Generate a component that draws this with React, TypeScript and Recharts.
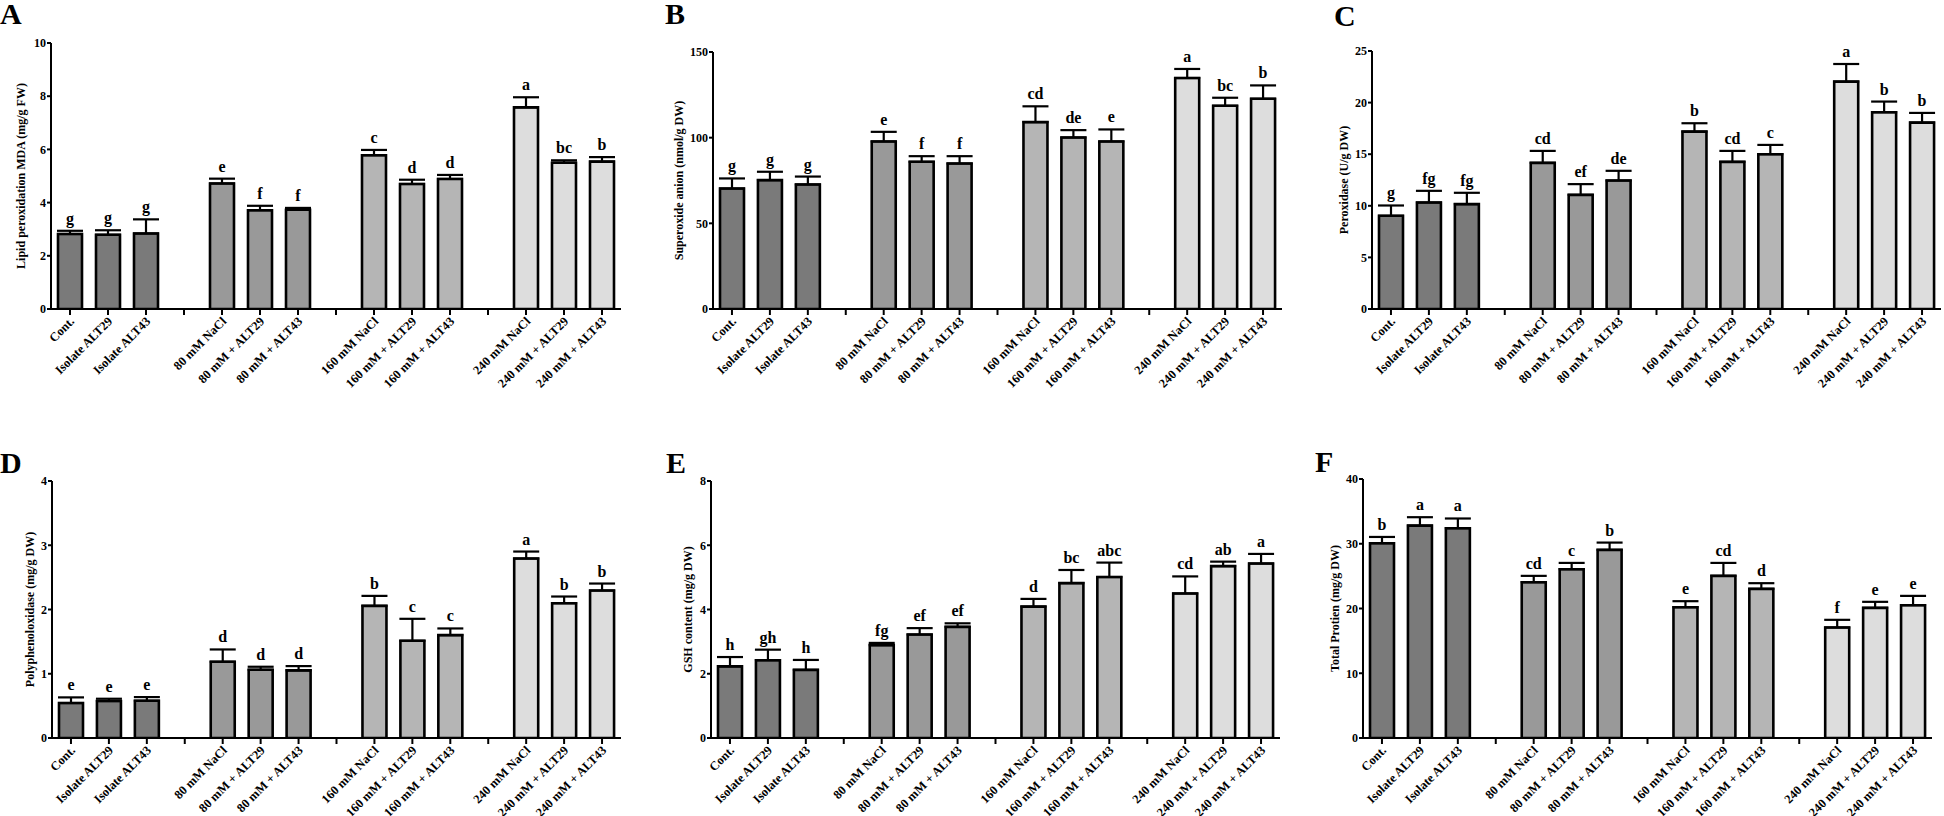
import React from 'react';
import { BarChart, Bar, XAxis, YAxis, ErrorBar, LabelList, Cell } from 'recharts';

const FONT = '"Liberation Serif", "Times New Roman", Times, serif';

const CATEGORIES = [
  'Cont.', 'Isolate ALT29', 'Isolate ALT43',
  '80 mM NaCl', '80 mM + ALT29', '80 mM + ALT43',
  '160 mM NaCl', '160 mM + ALT29', '160 mM + ALT43',
  '240 mM NaCl', '240 mM + ALT29', '240 mM + ALT43',
];

const GROUP_COLORS = ['#7a7a7a', '#999999', '#b5b5b5', '#dddddd'];

// A: Lipid peroxidation
const mdaMean = [2.82, 2.79, 2.84, 4.72, 3.71, 3.73, 5.78, 4.70, 4.89, 7.58, 5.50, 5.54];
const mdaErr = [0.12, 0.17, 0.53, 0.18, 0.17, 0.07, 0.20, 0.16, 0.15, 0.38, 0.09, 0.17];
const mdaSig = ['g', 'g', 'g', 'e', 'f', 'f', 'c', 'd', 'd', 'a', 'bc', 'b'];
const mdaTicks = [0, 2, 4, 6, 8, 10];

// B: Superoxide anion
const soMean = [70.3, 75.2, 72.7, 97.8, 85.9, 84.9, 109.1, 100.1, 97.8, 134.8, 118.6, 122.7];
const soErr = [5.9, 4.9, 4.6, 5.6, 3.3, 4.3, 9.2, 4.3, 7.0, 5.3, 4.7, 7.8];
const soSig = ['g', 'g', 'g', 'e', 'f', 'f', 'cd', 'de', 'e', 'a', 'bc', 'b'];
const soTicks = [0, 50, 100, 150];

// C: Peroxidase
const podMean = [9.03, 10.32, 10.16, 14.16, 11.06, 12.45, 17.19, 14.26, 15.0, 22.03, 19.06, 18.06];
const podErr = [1.0, 1.13, 1.1, 1.16, 1.04, 0.94, 0.81, 1.06, 0.9, 1.71, 1.04, 0.94];
const podSig = ['g', 'fg', 'fg', 'cd', 'ef', 'de', 'b', 'cd', 'c', 'a', 'b', 'b'];
const podTicks = [0, 5, 10, 15, 20, 25];

// D: Polyphenoloxidase
const ppoMean = [0.544, 0.575, 0.58, 1.187, 1.062, 1.052, 2.057, 1.513, 1.601, 2.793, 2.098, 2.295];
const ppoErr = [0.088, 0.036, 0.057, 0.191, 0.047, 0.067, 0.155, 0.342, 0.104, 0.109, 0.104, 0.109];
const ppoSig = ['e', 'e', 'e', 'd', 'd', 'd', 'b', 'c', 'c', 'a', 'b', 'b'];
const ppoTicks = [0, 1, 2, 3, 4];

// E: GSH content
const gshMean = [2.23, 2.42, 2.12, 2.89, 3.22, 3.46, 4.09, 4.82, 5.01, 4.5, 5.35, 5.43];
const gshErr = [0.29, 0.33, 0.31, 0.07, 0.2, 0.11, 0.24, 0.41, 0.45, 0.53, 0.14, 0.3];
const gshSig = ['h', 'gh', 'h', 'fg', 'ef', 'ef', 'd', 'bc', 'abc', 'cd', 'ab', 'a'];
const gshTicks = [0, 2, 4, 6, 8];

// F: Total protein
const protMean = [30.08, 32.8, 32.4, 24.06, 26.07, 29.05, 20.2, 25.04, 23.03, 17.07, 20.1, 20.51];
const protErr = [0.97, 1.3, 1.5, 0.98, 0.97, 1.13, 0.93, 2.0, 0.88, 1.18, 0.93, 1.44];
const protSig = ['b', 'a', 'a', 'cd', 'c', 'b', 'e', 'cd', 'd', 'f', 'e', 'e'];
const protTicks = [0, 10, 20, 30, 40];

type Row = { key: string; label: string; value: number | null; err?: number[]; sig: string; sd: number; group: number };

function buildRows(means: number[], errs: number[], sigs: string[]): Row[] {
  const rows: Row[] = [];
  CATEGORIES.forEach((c, i) => {
    if (i > 0 && i % 3 === 0) {
      rows.push({ key: `gap${i}`, label: '', value: null, sig: '', sd: 0, group: -1 });
    }
    rows.push({ key: c, label: c, value: means[i], err: [0, errs[i]], sig: sigs[i], sd: errs[i], group: Math.floor(i / 3) });
  });
  return rows;
}

const CatTick = (props: any) => {
  const { x, y, payload } = props;
  const v = String(payload?.value ?? '');
  if (v.startsWith('gap')) return null;
  const ax = x + 2;
  const ay = y + 4;
  return (
    <text
      x={ax}
      y={ay}
      transform={`rotate(-45, ${ax}, ${ay})`}
      textAnchor="end"
      dy="0.35em"
      fontSize={12.5}
      fontWeight="bold"
      fontFamily={FONT}
      fill="#000"
    >
      {v}
    </text>
  );
};

type PanelCfg = {
  letter: string; letterX: number; letterBase: number;
  plotX: number; plotY: number; plotW: number; plotH: number;
  max: number; ticks: number[]; ylabel: string; labelOffset: number;
  means: number[]; errs: number[]; sigs: string[];
};

function Panel({ cfg }: { cfg: PanelCfg }) {
  const { plotX, plotY, plotW, plotH, max, ticks, ylabel, labelOffset, means, errs, sigs } = cfg;
  const rows = buildRows(means, errs, sigs);
  const YW = 60, MT = 40, XH = 110, MR = 4;
  const width = YW + plotW + MR;
  const height = MT + plotH + XH;
  const ppu = plotH / max;

  const sigContent = (p: any) => {
    const { x, y, width: w, value } = p;
    if (!value) return null;
    const [s, sdStr] = String(value).split('|');
    const sd = Number(sdStr);
    const cx = Number(x) + Number(w) / 2;
    const ty = Number(y) - sd * ppu - 7;
    return (
      <text x={cx} y={ty} textAnchor="middle" fontSize={16} fontWeight="bold" fontFamily={FONT} fill="#000">
        {s}
      </text>
    );
  };

  const yLabel = () => {
    const lx = YW - labelOffset;
    const ly = MT + plotH / 2;
    return (
      <text
        x={lx}
        y={ly}
        transform={`rotate(-90, ${lx}, ${ly})`}
        textAnchor="middle"
        dominantBaseline="central"
        fontSize={12}
        fontWeight="bold"
        fontFamily={FONT}
        fill="#000"
      >
        {ylabel}
      </text>
    );
  };

  return (
    <div style={{ position: 'absolute', left: plotX - YW, top: plotY - MT }}>
      <BarChart width={width} height={height} data={rows} margin={{ top: MT, right: MR, left: 0, bottom: 0 }} barSize={24}>
        <XAxis
          dataKey="key"
          type="category"
          interval={0}
          height={XH}
          tick={<CatTick />}
          tickSize={6}
          tickMargin={0}
          tickLine={{ stroke: '#000', strokeWidth: 2 }}
          axisLine={{ stroke: '#000', strokeWidth: 2 }}
        />
        <YAxis
          type="number"
          domain={[0, max]}
          ticks={ticks}
          interval={0}
          width={YW}
          tickSize={4}
          tickMargin={1}
          tick={{ fill: '#000', fontSize: 12, fontWeight: 'bold', fontFamily: FONT }}
          tickLine={{ stroke: '#000', strokeWidth: 2 }}
          axisLine={{ stroke: '#000', strokeWidth: 2 }}
          label={yLabel}
          allowDataOverflow
        />
        <Bar dataKey="value" isAnimationActive={false} stroke="#000" strokeWidth={2.6}>
          {rows.map((r, i) => (
            <Cell key={i} fill={r.group >= 0 ? GROUP_COLORS[r.group] : 'none'} />
          ))}
          <ErrorBar dataKey="err" width={13} stroke="#000" strokeWidth={2.2} direction="y" isAnimationActive={false} />
          <LabelList
            dataKey={(d: any) => (d.sig ? `${d.sig}|${d.sd}` : '')}
            content={sigContent}
          />
        </Bar>
      </BarChart>
    </div>
  );
}

const PANELS: PanelCfg[] = [
  { letter: 'A', letterX: 0, letterBase: 24, plotX: 51, plotY: 43, plotW: 570, plotH: 266, max: 10, ticks: mdaTicks,
    ylabel: 'Lipid peroxidation MDA (mg/g FW)', labelOffset: 30, means: mdaMean, errs: mdaErr, sigs: mdaSig },
  { letter: 'B', letterX: 665, letterBase: 24, plotX: 713, plotY: 52, plotW: 569, plotH: 257, max: 150, ticks: soTicks,
    ylabel: 'Superoxide anion (nmol/g DW)', labelOffset: 34, means: soMean, errs: soErr, sigs: soSig },
  { letter: 'C', letterX: 1334, letterBase: 26, plotX: 1372, plotY: 51, plotW: 569, plotH: 258, max: 25, ticks: podTicks,
    ylabel: 'Peroxidase (U/g DW)', labelOffset: 28, means: podMean, errs: podErr, sigs: podSig },
  { letter: 'D', letterX: 0, letterBase: 473, plotX: 52, plotY: 481, plotW: 569, plotH: 257, max: 4, ticks: ppoTicks,
    ylabel: 'Polyphenoloxidase (mg/g DW)', labelOffset: 22, means: ppoMean, errs: ppoErr, sigs: ppoSig },
  { letter: 'E', letterX: 666, letterBase: 473, plotX: 711, plotY: 481, plotW: 569, plotH: 257, max: 8, ticks: gshTicks,
    ylabel: 'GSH content (mg/g DW)', labelOffset: 23, means: gshMean, errs: gshErr, sigs: gshSig },
  { letter: 'F', letterX: 1315, letterBase: 472, plotX: 1363, plotY: 479, plotW: 569, plotH: 259, max: 40, ticks: protTicks,
    ylabel: 'Total Protien (mg/g DW)', labelOffset: 28, means: protMean, errs: protErr, sigs: protSig },
];

export default function App() {
  return (
    <div style={{ position: 'absolute', left: 0, top: 0, width: 1944, height: 816, background: '#fff', overflow: 'hidden' }}>
      {PANELS.map((p) => (
        <React.Fragment key={p.letter}>
          <div
            style={{
              position: 'absolute',
              left: p.letterX,
              top: p.letterBase - 21,
              fontFamily: FONT,
              fontWeight: 'bold',
              fontSize: 30,
              lineHeight: '22px',
              color: '#000',
            }}
          >
            {p.letter}
          </div>
          <Panel cfg={p} />
        </React.Fragment>
      ))}
    </div>
  );
}
